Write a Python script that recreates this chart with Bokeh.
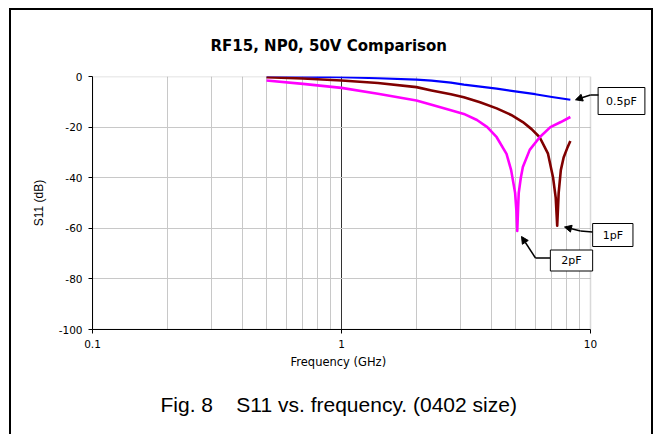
import math
from bokeh.plotting import figure
from bokeh.models import (FixedTicker, NumeralTickFormatter, Label, Arrow, NormalHead,
                          BoxAnnotation, Title)
from bokeh.embed import file_html
from bokeh.resources import INLINE

# ---------------- data ----------------
freq_05 = [0.5, 0.7, 1.0, 1.4, 2.0, 2.3, 2.75, 3.1, 4.2, 4.9, 6.0, 7.0, 8.3]
s11_05 = [0.0, -0.1, -0.3, -0.7, -1.2, -1.6, -2.4, -3.2, -4.8, -5.8, -7.0, -8.1, -9.2]

freq_1 = [0.5, 0.7, 1.0, 1.4, 2.0, 2.3, 2.75, 3.1, 3.6, 4.2, 4.8, 5.35, 5.8, 6.25,
          6.75, 7.07, 7.25, 7.35, 7.45, 7.6, 7.8, 8.05, 8.3]
s11_1 = [-0.3, -0.8, -1.6, -2.6, -4.2, -5.5, -7.0, -8.2, -10.2, -12.6, -15.2, -18.0, -20.8, -24.0,
         -30.5, -39.8, -48.0, -59.0, -46.0, -37.0, -32.0, -28.5, -25.5]

freq_2 = [0.5, 0.7, 1.0, 1.4, 2.0, 2.3, 2.75, 3.1, 3.5, 3.85, 4.2, 4.6, 4.8, 4.98, 5.04,
          5.08, 5.12, 5.15, 5.25, 5.35, 5.7, 6.25, 6.9, 7.6, 8.3]
s11_2 = [-1.6, -2.9, -4.5, -6.8, -9.5, -11.2, -13.3, -14.8, -17.2, -20.0, -24.0, -30.6, -37.0, -46.0, -53.0,
         -61.0, -52.0, -46.0, -40.0, -35.8, -29.0, -24.0, -20.0, -18.0, -16.0]

series_labels = ["0.5pF", "1pF", "2pF"]
series_colors = ["#0000FF", "#800000", "#FF00FF"]

x_major_ticks = [0.1, 1, 10]
x_minor_ticks = [0.2, 0.3, 0.4, 0.5, 0.6, 0.7, 0.8, 0.9, 2, 3, 4, 5, 6, 7, 8, 9]
y_ticks = [-100, -80, -60, -40, -20, 0]
y_grid_ticks = [-80, -60, -40, -20]

title_text = "RF15, NP0, 50V Comparison"
x_label = "Frequency (GHz)"
y_label = "S11 (dB)"
caption = "Fig. 8\u00a0\u00a0\u00a0 S11 vs. frequency. (0402 size)"

# ---------------- layout geometry (page px) ----------------
CX0, CY0 = 11, 10            # canvas origin on the page (after css margin + border)
W, H = 644, 426
FL, FT, FB = 92, 76, 329     # plot-area edges on the page
PR = 590                     # right edge of the Excel plot area (x = 10 GHz)
FR = CX0 + W                 # frame extends to the canvas right edge
XMIN, XMAX, YMIN, YMAX = 0.1, 10, -100, 0
DEC = (PR - FL) / math.log10(XMAX / XMIN)   # px per decade
X_END = XMAX * 10 ** ((FR - PR) / DEC)


def fx(px):
    """page x pixel -> frequency (log axis)"""
    return XMIN * 10 ** ((px - FL) / DEC)


def fy(py):
    """page y pixel -> dB"""
    return YMAX - (py - FT) / (FB - FT) * (YMAX - YMIN)


p = figure(width=W, height=H, x_axis_type="log", x_range=(XMIN, X_END), y_range=(YMIN, YMAX),
           output_backend="svg", toolbar_location=None,
           min_border_left=FL - CX0, min_border_right=0,
           min_border_top=FT - CY0, min_border_bottom=CY0 + H - FB)
p.styles = {"margin-left": "9px", "margin-top": "8px",
            "border-left": "2px solid #000", "border-top": "2px solid #000",
            "border-right": "2px solid #000"}
p.background_fill_color = "white"
p.border_fill_color = "white"
p.outline_line_color = None

# axes
p.xaxis.ticker = FixedTicker(ticks=x_major_ticks, minor_ticks=x_minor_ticks)
p.xaxis.formatter = NumeralTickFormatter(format="0.[0]")
p.xaxis.bounds = (XMIN, XMAX)
p.yaxis.ticker = FixedTicker(ticks=y_ticks)
p.yaxis.formatter = NumeralTickFormatter(format="0")
p.yaxis.bounds = (YMIN, YMAX)
for ax in (p.xaxis[0], p.yaxis[0]):
    ax.axis_line_color = "black"
    ax.major_tick_line_color = "black"
    ax.major_tick_out = 4
    ax.major_tick_in = 0
    ax.minor_tick_line_color = None
    ax.major_label_text_font = "DejaVu Sans"
    ax.major_label_text_font_size = "10.5px"
    ax.major_label_text_color = "black"
    ax.axis_label_text_color = "black"
    ax.axis_label_text_font_style = "normal"
p.xaxis.major_label_standoff = 6
p.yaxis.major_label_standoff = 6
p.yaxis.axis_label = y_label
p.yaxis.axis_label_text_font = "Liberation Sans"
p.yaxis.axis_label_text_font_size = "12px"
p.yaxis.axis_label_standoff = 10

# grids
p.xgrid.ticker = FixedTicker(ticks=[1], minor_ticks=x_minor_ticks)
p.xgrid.grid_line_color = "#333333"
p.xgrid.minor_grid_line_color = "#c8c8c8"
p.ygrid.ticker = FixedTicker(ticks=y_grid_ticks)
p.ygrid.grid_line_color = "#c8c8c8"

# blank the area right of the plot area, then the grey plot-area border
p.add_layout(BoxAnnotation(left=XMAX, right=X_END, bottom=YMIN, top=YMAX, fill_color="white",
                           fill_alpha=1, line_color=None, level="underlay"))
p.add_layout(BoxAnnotation(left=XMIN, right=XMAX, bottom=YMIN, top=YMAX, fill_alpha=0,
                           line_color="#808080", line_width=1.5, level="underlay"))

# series
for fr, s, c, w in ((freq_05, s11_05, series_colors[0], 2.2),
                    (freq_1, s11_1, series_colors[1], 2.6),
                    (freq_2, s11_2, series_colors[2], 2.6)):
    p.line(fr, s, line_color=c, line_width=w, line_join="round")

# title
p.title.text = title_text
p.title.align = "left"
p.title.offset = 210 - FL
p.title.standoff = 43
p.title.text_font = "DejaVu Sans"
p.title.text_font_style = "bold"
p.title.text_font_size = "15px"
p.title.text_color = "black"

# x-axis title (positioned over the plot area) and caption
xt = Title(text=x_label, align="left", offset=290 - FL,
           text_font="DejaVu Sans", text_font_style="normal", text_font_size="11.5px",
           text_color="black", standoff=4)
p.add_layout(xt, "below")
cap = Title(text=caption, align="left", offset=160 - FL,
            text_font="Liberation Sans", text_font_style="normal", text_font_size="21px",
            text_color="black", standoff=40)
p.add_layout(cap, "below")

# callout boxes: (text, centre x, centre y, padding (horizontal, vertical))
boxes = [(series_labels[0], 621, 100.5, (8, 7)),
         (series_labels[1], 612.3, 234.5, (10, 5)),
         (series_labels[2], 571, 260, (11, 4))]
for txt, bx, by, pad in boxes:
    p.add_layout(Label(x=fx(bx), y=fy(by), text=txt, text_align="center", text_baseline="middle",
                       text_font="DejaVu Sans", text_font_size="11px", text_color="black",
                       background_fill_color="white", border_line_color="black", border_line_width=1,
                       padding=pad))

# leader lines (page px polylines, last segment with arrowhead)
leaders = [
    [(598, 94.5), (590, 94.5), (575, 99.3)],
    [(592, 231.5), (580, 230.5), (564, 226.5)],
    [(549.5, 257.5), (535, 257.5), (521, 236)],
]
for pts in leaders:
    for i in range(len(pts) - 1):
        (x0, y0), (x1, y1) = pts[i], pts[i + 1]
        last = i == len(pts) - 2
        p.add_layout(Arrow(x_start=fx(x0), y_start=fy(y0), x_end=fx(x1), y_end=fy(y1),
                           line_color="black", line_width=1.5,
                           end=NormalHead(size=7, fill_color="black", line_color="black") if last else None))

open("out.html", "w").write(file_html(p, INLINE))
